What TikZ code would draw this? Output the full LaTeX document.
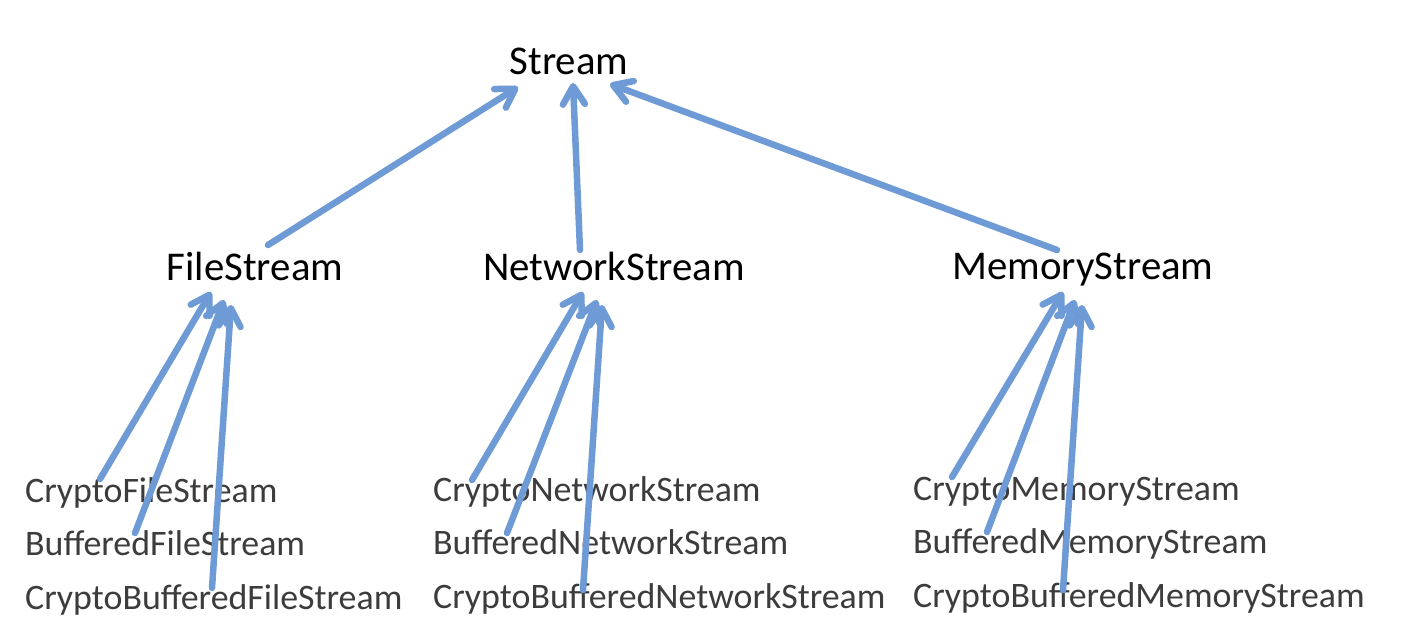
\documentclass[tikz,border=0pt]{standalone}
\usepackage{fontspec}
\setmainfont{Carlito}
\usetikzlibrary{arrows.meta}
\definecolor{arrowblue}{RGB}{110,155,213}
\definecolor{subgray}{RGB}{60,60,60}
\tikzset{
  toplabel/.style={inner sep=0pt, anchor=base, font=\fontsize{41}{48}\selectfont, text=black},
  sublabel/.style={inner sep=0pt, anchor=base west, font=\fontsize{36}{42}\selectfont, text=subgray},
  inherit/.style={draw=arrowblue, line width=6.5bp, line cap=round,
    -{Straight Barb[length=18bp,width=22bp,line cap=round,line join=round]}}
}
\begin{document}
\begin{tikzpicture}[x=1bp,y=-1bp]
\useasboundingbox[fill=white] (0,0) rectangle (1403,625);
% class labels
\node[toplabel] (stream) at (569,75) {Stream};
\node[toplabel] (file) at (255,280) {FileStream};
\node[toplabel] (net) at (614,280) {NetworkStream};
\node[toplabel] (mem) at (1083,279) {MemoryStream};
\node[sublabel] (cfs) at (25,502) {CryptoFileStream};
\node[sublabel] (bfs) at (25,555) {BufferedFileStream};
\node[sublabel] (cbfs) at (25,609) {CryptoBufferedFileStream};
\node[sublabel] (cns) at (433,501) {CryptoNetworkStream};
\node[sublabel] (bns) at (433,554) {BufferedNetworkStream};
\node[sublabel] (cbns) at (433,608) {CryptoBufferedNetworkStream};
\node[sublabel] (cms) at (913,500) {CryptoMemoryStream};
\node[sublabel] (bms) at (913,553) {BufferedMemoryStream};
\node[sublabel] (cbms) at (913,607) {CryptoBufferedMemoryStream};
% connector end points
\coordinate (stream-l) at (518,87);
\coordinate (stream-m) at (573,83);
\coordinate (stream-r) at (610,84);
\coordinate (file-s) at (268,245);
\coordinate (net-s) at (580,250);
\coordinate (mem-s) at (1057,250);
\coordinate (file-a) at (211,292);
\coordinate (file-b) at (224,300);
\coordinate (file-c) at (231,305);
\coordinate (net-a) at (583,292);
\coordinate (net-b) at (597,300);
\coordinate (net-c) at (602,305);
\coordinate (mem-a) at (1063,292);
\coordinate (mem-b) at (1075,300);
\coordinate (mem-c) at (1082,305);
\coordinate (cfs-s) at (100,479);
\coordinate (bfs-s) at (135,533);
\coordinate (cbfs-s) at (212,588);
\coordinate (cns-s) at (472,480);
\coordinate (bns-s) at (507,533);
\coordinate (cbns-s) at (583,590);
\coordinate (cms-s) at (952,477);
\coordinate (bms-s) at (987,532);
\coordinate (cbms-s) at (1063,590);
% connectors
\draw[inherit] (file-s) -- (stream-l);
\draw[inherit] (net-s) -- (stream-m);
\draw[inherit] (mem-s) -- (stream-r);
\draw[inherit] (cfs-s) -- (file-a);
\draw[inherit] (bfs-s) -- (file-b);
\draw[inherit] (cbfs-s) -- (file-c);
\draw[inherit] (cns-s) -- (net-a);
\draw[inherit] (bns-s) -- (net-b);
\draw[inherit] (cbns-s) -- (net-c);
\draw[inherit] (cms-s) -- (mem-a);
\draw[inherit] (bms-s) -- (mem-b);
\draw[inherit] (cbms-s) -- (mem-c);
\end{tikzpicture}
\end{document}
